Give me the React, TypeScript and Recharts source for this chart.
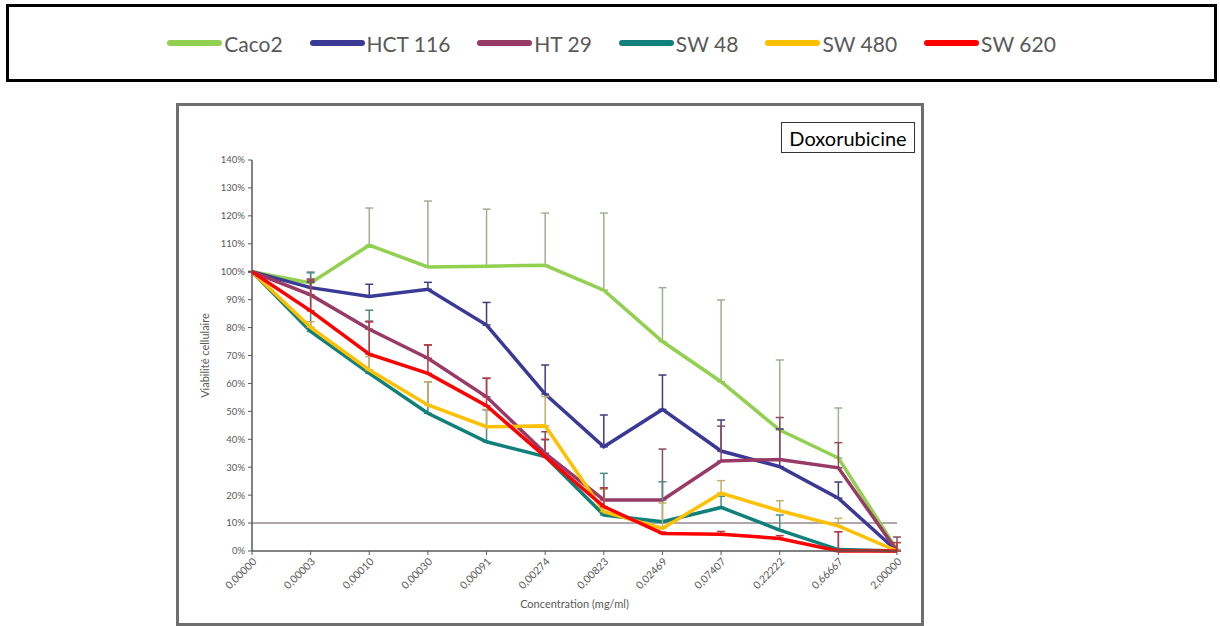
import React from 'react'
import { LineChart, Line, XAxis, YAxis, ErrorBar, ReferenceLine } from 'recharts'

// Concentrations (mg/ml), x categories
const concentrations = ['0,00000', '0,00003', '0,00010', '0,00030', '0,00091', '0,00274', '0,00823', '0,02469', '0,07407', '0,22222', '0,66667', '2,00000']

// Cell viability (%) per cell line
const caco2 = [100, 96, 109.5, 101.7, 102, 102.3, 93.4, 75, 60.6, 43.3, 33.3, 0.5]
const hct116 = [100, 94.3, 91.1, 93.7, 80.9, 56.2, 37.3, 50.7, 35.8, 30.2, 18.9, 0]
const ht29 = [100, 91.7, 79.4, 69, 55.2, 35, 18.3, 18.3, 32.2, 32.8, 29.8, 0]
const sw48 = [100, 78.6, 63.6, 49.3, 39.1, 33.8, 12.9, 10.5, 15.6, 7.5, 0.5, 0]
const sw480 = [100, 80.1, 64.8, 52.3, 44.5, 44.8, 14.1, 8.1, 20.7, 14.4, 9, 0]
const sw620 = [100, 86, 70.5, 63.6, 52, 33.8, 15.9, 6.3, 6, 4.5, 0, 0]

// upper error bars (%)
const caco2Err = [0, 4, 13.3, 23.6, 20.4, 18.7, 27.6, 19.3, 29.3, 25.1, 17.9, 0]
const hct116Err = [0, 2, 4.4, 2.5, 8.1, 10.4, 11.4, 12.3, 11.1, 13.5, 5.8, 0]
const ht29Err = [0, 5.7, 2.9, 4.8, 6.7, 7.7, 4.3, 18.2, 12.5, 15, 9, 5]
const sw48Err = [0, 21, 22.6, 11.3, 11.4, 6, 14.9, 14.3, 4, 5.4, 6.4, 0]
const sw480Err = [0, 2, 4.8, 8.3, 6.2, 10.5, 8, 9.1, 4.5, 3.6, 2.7, 0]
const sw620Err = [0, 11, 11.5, 10.2, 9.8, 6.2, 6.7, 0.5, 1, 1, 6.9, 3]

const series = [
  { key: 'caco2', name: 'Caco2', values: caco2, errors: caco2Err, color: '#92d050', errColor: '#a2ad93' },
  { key: 'hct116', name: 'HCT 116', values: hct116, errors: hct116Err, color: '#3a3a96', errColor: '#3d3d7c' },
  { key: 'ht29', name: 'HT 29', values: ht29, errors: ht29Err, color: '#983a66', errColor: '#8c4a62' },
  { key: 'sw48', name: 'SW 48', values: sw48, errors: sw48Err, color: '#10807a', errColor: '#4e8a86' },
  { key: 'sw480', name: 'SW 480', values: sw480, errors: sw480Err, color: '#ffc000', errColor: '#c4ae6a' },
  { key: 'sw620', name: 'SW 620', values: sw620, errors: sw620Err, color: '#ff0000', errColor: '#b83a44' },
]

const yTicks = [0, 10, 20, 30, 40, 50, 60, 70, 80, 90, 100, 110, 120, 130, 140]

const data = concentrations.map((c, i) => {
  const row: Record<string, any> = { conc: c }
  series.forEach((s) => {
    row[s.key] = s.values[i]
    row[s.key + 'Err'] = [0, s.errors[i]]
  })
  return row
})

const FONT = 'Lato, "Noto Sans", sans-serif'
const TEXT = '#595959'

export default function App() {
  return (
    <div style={{ fontFamily: FONT }}>
      {/* legend box */}
      <div
        style={{
          position: 'absolute', left: 6, top: 4, width: 1211, height: 78,
          border: '3px solid #000', boxSizing: 'border-box',
          display: 'flex', alignItems: 'center', justifyContent: 'center', gap: 27,
        }}
      >
        {series.map((s) => (
          <div key={s.key} style={{ display: 'flex', alignItems: 'center' }}>
            <span style={{ display: 'inline-block', width: 55, height: 6, borderRadius: 3, background: s.color, marginRight: 2 }} />
            <span style={{ fontSize: 21, color: TEXT }}>{s.name}</span>
          </div>
        ))}
      </div>

      {/* chart frame */}
      <div
        style={{
          position: 'absolute', left: 176, top: 103, width: 748, height: 523,
          border: '3px solid #6e6e6e', boxSizing: 'border-box',
        }}
      />
      <div
        style={{
          position: 'absolute', left: 781, top: 122, width: 134, height: 31,
          border: '1.5px solid #333', boxSizing: 'border-box', background: '#fff',
          display: 'flex', alignItems: 'center', justifyContent: 'center',
          fontSize: 20, color: '#000', zIndex: 2,
        }}
      >
        Doxorubicine
      </div>

      <div style={{ position: 'absolute', left: 179, top: 106 }}>
        <LineChart width={742} height={517} data={data} margin={{ top: 54, right: 24, left: 0, bottom: 17 }}>
          <XAxis
            dataKey="conc"
            interval={0}
            height={55}
            tickSize={4}
            tickMargin={2}
            axisLine={{ stroke: '#595959', strokeWidth: 1.5 }}
            tickLine={{ stroke: '#595959' }}
            tick={{ fontSize: 10.5, fill: TEXT, angle: -45, textAnchor: 'end' }}
            label={{ value: 'Concentration (mg/ml)', position: 'bottom', offset: -6, fontSize: 11, fill: TEXT }}
          />
          <YAxis
            width={73}
            domain={[0, 140]}
            ticks={yTicks}
            interval={0}
            tickSize={4}
            tickMargin={3}
            tickFormatter={(v) => `${v}%`}
            axisLine={{ stroke: '#595959', strokeWidth: 1.5 }}
            tickLine={{ stroke: '#595959' }}
            tick={{ fontSize: 9.5, fill: TEXT }}
            label={{ value: 'Viabilité cellulaire', angle: -90, position: 'center', dx: -10, fontSize: 11, fill: TEXT }}
          />
          <ReferenceLine y={10} stroke="#b3a6a8" strokeWidth={2} />
          {series.map((s) => (
            <Line
              key={s.key}
              type="linear"
              dataKey={s.key}
              name={s.name}
              stroke={s.color}
              strokeWidth={3.5}
              dot={false}
              activeDot={false}
              isAnimationActive={false}
            >
              <ErrorBar dataKey={s.key + 'Err'} direction="y" width={4} stroke={s.errColor} strokeWidth={1.5} isAnimationActive={false} />
            </Line>
          ))}
        </LineChart>
      </div>
    </div>
  )
}
